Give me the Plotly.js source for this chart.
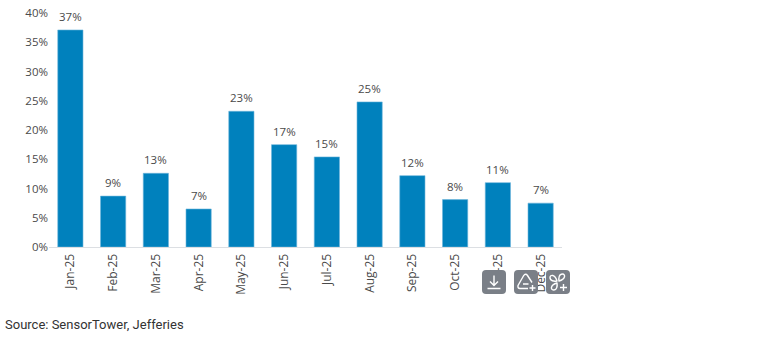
<!DOCTYPE html>
<html><head><meta charset="utf-8">
<script src="https://cdn.plot.ly/plotly-3.0.1.min.js"></script>
<style>
html,body{margin:0;padding:0;background:#fff;overflow:hidden}
#c{position:absolute;left:0;top:0;width:760px;height:352px}
.b{position:absolute;top:270px;width:24px;height:24px;background:#7a7f87;border-radius:4px;z-index:5}
.b svg{display:block}
</style></head><body>
<div id="c"></div>
<div class="b" style="left:482px"><svg width="24" height="24" fill="none" stroke="#fff" stroke-width="1.4"><path d="M12 5.5v9.500M8 11.500l4 4 4-4M5.500 18.500h13"/></svg></div>
<div class="b" style="left:514px"><svg width="24" height="24" fill="none" stroke="#fff" stroke-width="1.400" stroke-linejoin="round"><path d="M10 5L4 15.500q-.5 3 2 3H14M10 5q2-1.500 3.500 .5L18 12.500M9 14h5.500"/><path d="M18.500 15v6M15.500 18h6"/></svg></div>
<div class="b" style="left:546px"><svg width="24" height="24" fill="none" stroke="#fff" stroke-width="1.400" stroke-linejoin="round"><path d="M11 11C8 11.500 4 11 4 7.500 4 4.500 9 4 11 11zM13 11c-.5-3 0-7 3.500-7 3 0 3.500 5-3.500 7zM11 13c.5 3 0 7-3.500 7-3 0-3.500-5 3.500-7z"/><path d="M17.500 14v7M14 17.500h7"/></svg></div>
<script>
var categories=["Jan-25","Feb-25","Mar-25","Apr-25","May-25","Jun-25","Jul-25","Aug-25","Sep-25","Oct-25","Nov-25","Dec-25"];
var values=[37.1,8.7,12.6,6.5,23.2,17.5,15.4,24.8,12.2,8.1,11.0,7.5];
var labels=["37%","9%","13%","7%","23%","17%","15%","25%","12%","8%","11%","7%"];
var yTicks=[0,5,10,15,20,25,30,35,40];
var yTickLabels=["0%","5%","10%","15%","20%","25%","30%","35%","40%"];
var source="Source: SensorTower, Jefferies";
var tickFont={family:"'Open Sans',sans-serif",size:11.5,color:"#4a4a4a"};
var xFont={family:"'Open Sans',sans-serif",size:12,color:"#4a4a4a"};
var ann=categories.map(function(c,i){return {x:c,y:values[i],xref:"x",yref:"y",text:labels[i],showarrow:false,yanchor:"bottom",yshift:4,font:tickFont};});
ann.push({xref:"paper",yref:"paper",x:-0.0905,xanchor:"left",y:-0.29,yanchor:"top",text:source,showarrow:false,font:{family:"Roboto,sans-serif",size:13,color:"#333"}});
Plotly.newPlot("c",[{
  type:"bar",x:categories,y:values,marker:{color:"#0081bd",line:{color:"#6db5dc",width:0.6}},hoverinfo:"x+y"
}],{
  width:760,height:352,autosize:false,showlegend:false,bargap:0.41,
  paper_bgcolor:"#fff",plot_bgcolor:"#fff",
  margin:{l:49,r:198,t:13,b:105},
  xaxis:{type:"category",tickangle:-90,tickfont:xFont,ticklabelstandoff:1,showgrid:false,showline:true,linecolor:"#dcdfe3",linewidth:1,ticks:"",ticklen:0,automargin:false,fixedrange:true},
  yaxis:{range:[0,40],tickmode:"array",tickvals:yTicks,ticktext:yTickLabels,tickfont:tickFont,showgrid:false,zeroline:false,showline:false,ticks:"",automargin:false,fixedrange:true},
  annotations:ann
},{displayModeBar:false});
</script></body></html>
